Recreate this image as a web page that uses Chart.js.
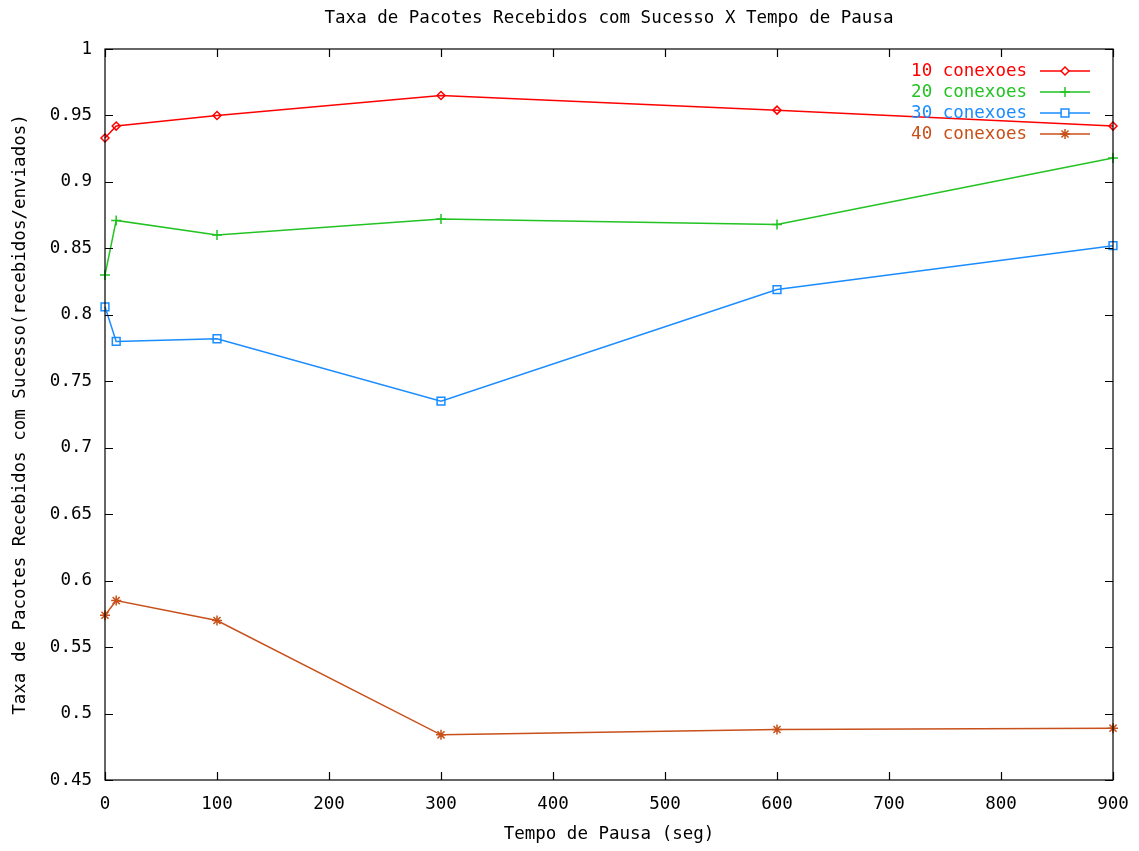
<!DOCTYPE html>
<html>
<head>
<meta charset="utf-8">
<script src="https://cdn.jsdelivr.net/npm/chart.js@4/dist/chart.umd.min.js"></script>
<style>
  html, body { margin: 0; padding: 0; background: #fff; }
  #wrap { width: 1139px; height: 851px; }
</style>
</head>
<body>
<div id="wrap"><canvas id="chart" width="1139" height="851"></canvas></div>
<script>
// Tempo de pausa (seg)
const pauseTimes = [0, 10, 100, 300, 600, 900];
// Taxa de pacotes recebidos com sucesso, por numero de conexoes
const conexoes10 = [0.933, 0.942, 0.950, 0.965, 0.954, 0.942];
const conexoes20 = [0.830, 0.871, 0.860, 0.872, 0.868, 0.918];
const conexoes30 = [0.806, 0.780, 0.782, 0.735, 0.819, 0.852];
const conexoes40 = [0.574, 0.585, 0.570, 0.484, 0.488, 0.489];

const seriesLabels = ['10 conexoes', '20 conexoes', '30 conexoes', '40 conexoes'];
const seriesValues = [conexoes10, conexoes20, conexoes30, conexoes40];
const seriesColors = ['#ff0000', '#22c322', '#1a8cff', '#c8501a'];
const seriesMarkers = ['rectRot', 'cross', 'rect', 'star'];
const markerSizes = [4, 5, 5.5, 5];

const FONT = '"DejaVu Sans Mono", "Liberation Mono", monospace';
const FONT_SIZE = 17.5;

const datasets = seriesValues.map((vals, i) => ({
  label: seriesLabels[i],
  data: pauseTimes.map((t, j) => ({ x: t, y: vals[j] })),
  borderColor: seriesColors[i],
  backgroundColor: 'rgba(0,0,0,0)',
  borderWidth: 1.5,
  pointStyle: seriesMarkers[i],
  pointRadius: markerSizes[i],
  pointBorderWidth: 1.5,
  pointBorderColor: seriesColors[i],
  pointBackgroundColor: 'rgba(0,0,0,0)',
  tension: 0,
  clip: false
}));

// gnuplot style frame with inward ticks on all four sides
const framePlugin = {
  id: 'frame',
  afterDraw(chart) {
    const { ctx, chartArea: a, scales } = chart;
    ctx.save();
    ctx.strokeStyle = '#000';
    ctx.lineWidth = 1.2;
    ctx.strokeRect(a.left, a.top, a.right - a.left, a.bottom - a.top);
    const len = 8;
    ctx.beginPath();
    scales.x.ticks.forEach(t => {
      const px = Math.round(scales.x.getPixelForValue(t.value)) + 0.5;
      ctx.moveTo(px, a.bottom); ctx.lineTo(px, a.bottom - len);
      ctx.moveTo(px, a.top); ctx.lineTo(px, a.top + len);
    });
    scales.y.ticks.forEach(t => {
      const py = Math.round(scales.y.getPixelForValue(t.value)) + 0.5;
      ctx.moveTo(a.left, py); ctx.lineTo(a.left + len, py);
      ctx.moveTo(a.right, py); ctx.lineTo(a.right - len, py);
    });
    ctx.stroke();
    ctx.restore();
  }
};

// legend inside the plot, top right, text then line sample with marker
const keyPlugin = {
  id: 'key',
  afterDraw(chart) {
    const { ctx, chartArea: a } = chart;
    ctx.save();
    ctx.font = FONT_SIZE + 'px ' + FONT;
    ctx.textAlign = 'right';
    ctx.textBaseline = 'middle';
    chart.data.datasets.forEach((ds, i) => {
      const y = a.top + 22 + i * 21;
      const lineEnd = a.right - 23;
      const lineStart = lineEnd - 50;
      ctx.fillStyle = ds.borderColor;
      ctx.fillText(ds.label, lineStart - 13, y);
      ctx.strokeStyle = ds.borderColor;
      ctx.lineWidth = 1.5;
      ctx.beginPath();
      ctx.moveTo(lineStart, y); ctx.lineTo(lineEnd, y);
      ctx.stroke();
      ctx.fillStyle = '#fff';
      Chart.helpers.drawPoint(ctx, {
        pointStyle: ds.pointStyle, radius: ds.pointRadius, borderWidth: 1.5, rotation: 0
      }, (lineStart + lineEnd) / 2, y);
    });
    ctx.restore();
  }
};

new Chart(document.getElementById('chart'), {
  type: 'line',
  data: { datasets },
  options: {
    responsive: false,
    animation: false,
    layout: { padding: { left: 0, right: 26, top: 0, bottom: 5 } },
    plugins: {
      legend: { display: false },
      tooltip: { enabled: false },
      title: {
        display: true,
        text: 'Taxa de Pacotes Recebidos com Sucesso X Tempo de Pausa',
        color: '#000',
        fullSize: false,
        font: { family: FONT, size: FONT_SIZE, weight: 'normal' },
        padding: { top: 8, bottom: 20 }
      }
    },
    scales: {
      x: {
        type: 'linear',
        min: 0,
        max: 900,
        grid: { display: false, drawTicks: false },
        border: { display: false },
        ticks: {
          stepSize: 100,
          color: '#000',
          padding: 14,
          maxRotation: 0,
          font: { family: FONT, size: FONT_SIZE }
        },
        title: {
          display: true,
          text: 'Tempo de Pausa (seg)',
          color: '#000',
          font: { family: FONT, size: FONT_SIZE },
          padding: { top: 0, bottom: 1 }
        },
        afterFit(scale) {
          scale.height = 66;
          scale.paddingLeft = 0;
          scale.paddingRight = 0;
        }
      },
      y: {
        min: 0.45,
        max: 1,
        grid: { display: false, drawTicks: false },
        border: { display: false },
        ticks: {
          stepSize: 0.05,
          color: '#000',
          padding: 13,
          font: { family: FONT, size: FONT_SIZE },
          callback: v => parseFloat(v.toFixed(2)).toString()
        },
        title: {
          display: true,
          text: 'Taxa de Pacotes Recebidos com Sucesso(recebidos/enviados)',
          color: '#000',
          font: { family: FONT, size: FONT_SIZE },
          padding: 10
        },
        afterFit(scale) { scale.width = 105; }
      }
    }
  },
  plugins: [framePlugin, keyPlugin]
});
</script>
</body>
</html>
